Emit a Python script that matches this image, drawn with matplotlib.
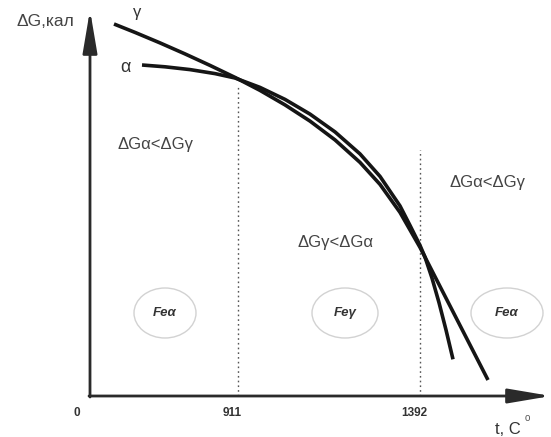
import matplotlib
matplotlib.use('Agg')
import matplotlib.pyplot as plt
from matplotlib.patches import Ellipse

plt.rcParams['font.family'] = ['Liberation Sans', 'DejaVu Sans']

# schematic axis units (temperature axis is not to scale)
gamma_x = [24, 45, 70, 95, 120, 145, 170, 195, 220, 245, 270, 290, 310, 320, 330, 335,
           350, 370, 390, 398]
gamma_y = [372, 363.6, 353.1, 342.1, 330.6, 318.6, 305.6, 291.1, 274.9, 256.1, 233.6,
           211.6, 183.6, 166.1, 148.6, 138.9, 109.6, 70.6, 31.6, 16]
alpha_x = [52, 75, 100, 125, 145, 170, 195, 220, 245, 270, 290, 310, 320, 330, 335,
           342, 349, 356, 363]
alpha_y = [331, 329.2, 326.4, 322.4, 318, 308.6, 296.6, 281.9, 264.1, 242.1, 219.6,
           190.1, 170.6, 150.6, 138.9, 117.9, 93.4, 66.1, 36.7]

tick_pos = [0, 148, 330]
tick_labels = ['0', '911', '1392']
transition_top = [309, 246]

regions = ['Fe\u03b1', 'Fe\u03b3', 'Fe\u03b1']
region_x = [75, 255, 417]
region_text = ['\u0394G\u03b1<\u0394G\u03b3', '\u0394G\u03b3<\u0394G\u03b1', '\u0394G\u03b1<\u0394G\u03b3']

fig = plt.figure(figsize=(5.51, 4.37), dpi=100)
ax = fig.add_axes([0, 0, 1, 1])
ax.set_xlim(-90, 461)
ax.set_ylim(-41, 396)
ax.axis('off')

axis_col = '#2a2a2a'
ax.annotate('', xy=(0, 386), xytext=(0, -1),
            arrowprops=dict(arrowstyle='-|>,head_length=1.3,head_width=0.22',
                            mutation_scale=20, lw=2, color=axis_col, shrinkA=0, shrinkB=0))
ax.annotate('', xy=(461, 0), xytext=(-1, 0),
            arrowprops=dict(arrowstyle='-|>,head_length=1.3,head_width=0.22',
                            mutation_scale=20, lw=2, color=axis_col, shrinkA=0, shrinkB=0))

# dotted transition lines
for xp, top in zip(tick_pos[1:], transition_top):
    ax.plot([xp, xp], [0, top], linestyle=(0, (1.2, 2.2)), color='#555555', lw=1)

# curves
ax.plot(gamma_x, gamma_y, color='#151515', lw=2.6, solid_capstyle='butt', solid_joinstyle='round')
ax.plot(alpha_x, alpha_y, color='#151515', lw=2.6, solid_capstyle='butt', solid_joinstyle='round')

ax.text(47, 384, '\u03b3', fontsize=12, ha='center', va='center', color='#333333')
ax.text(35, 328, '\u03b1', fontsize=13, ha='center', va='center', color='#333333')
ax.text(-45, 374, '\u0394G,\u043a\u0430\u043b', fontsize=12.5, ha='center', va='center', color='#444444')

# tick labels
for xp, lab in zip(tick_pos, tick_labels):
    off = -13 if lab == '0' else -6
    ax.text(xp + off, -17, lab, fontsize=8.5, fontweight='bold', ha='center', va='center', color='#333333')
ax.text(418, -33, 't, C', fontsize=12, ha='center', va='center', color='#333333')
ax.text(437, -22, 'o', fontsize=7, ha='center', va='center', color='#555555')

# region inequality labels
ax.text(66, 251, region_text[0], fontsize=12, ha='center', va='center', color='#444444')
ax.text(246, 153, region_text[1], fontsize=12, ha='center', va='center', color='#444444')
ax.text(397, 213, region_text[2], fontsize=12, ha='center', va='center', color='#444444')

# phase ellipses
for xc, lab, w in zip(region_x, regions, [62, 66, 72]):
    ax.add_patch(Ellipse((xc, 83), w, 50, fill=False, edgecolor='#d2d2d2', lw=1))
    ax.text(xc, 83, lab, fontsize=9.5, fontweight='bold', fontstyle='italic',
            ha='center', va='center', color='#333333')

fig.savefig('out.png', dpi=100)
